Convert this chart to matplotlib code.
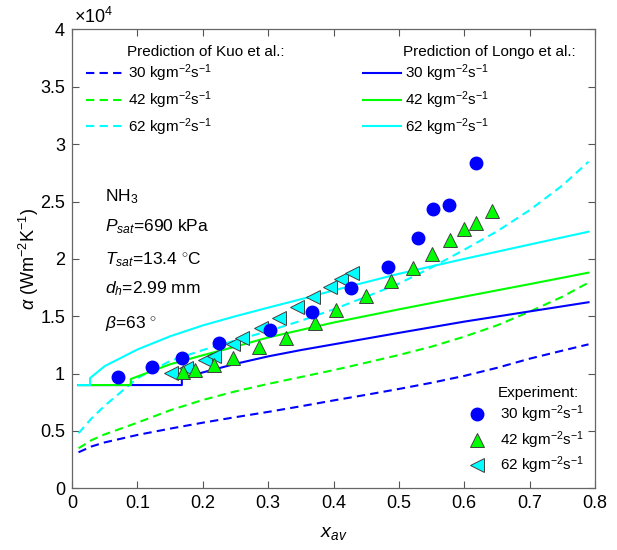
import numpy as np
import matplotlib.pyplot as plt
from matplotlib.ticker import FuncFormatter, MultipleLocator

plt.rcParams['font.family'] = 'Liberation Sans'
plt.rcParams['mathtext.fontset'] = 'custom'
plt.rcParams['mathtext.rm'] = 'Liberation Sans'
plt.rcParams['mathtext.it'] = 'Liberation Sans:italic'
plt.rcParams['mathtext.bf'] = 'Liberation Sans:bold'

# experimental heat transfer coefficients, W/m^2K
x_30 = [0.071, 0.123, 0.169, 0.225, 0.303, 0.367, 0.426, 0.483, 0.529, 0.552, 0.576, 0.618]
a_30 = [9680, 10600, 11400, 12640, 13800, 15340, 17490, 19320, 21850, 24380, 24670, 28360]

x_42 = [0.170, 0.188, 0.217, 0.247, 0.286, 0.327, 0.372, 0.404, 0.449, 0.488, 0.521,
        0.551, 0.578, 0.600, 0.618, 0.642]
a_42 = [10110, 10310, 10750, 11330, 12290, 13130, 14440, 15540, 16790, 18070, 19230,
        20400, 21650, 22600, 23100, 24180]

x_62 = [0.151, 0.174, 0.2035, 0.217, 0.247, 0.260, 0.289, 0.317, 0.344, 0.369, 0.394, 0.412, 0.429]
a_62 = [10030, 10460, 11190, 11530, 12580, 13080, 13950, 14820, 15830, 16700, 17580, 18220, 18740]

# Kuo et al. correlation
xk = [0.01, 0.03, 0.05, 0.1, 0.15, 0.2, 0.25, 0.3, 0.35, 0.4, 0.45, 0.5, 0.55, 0.6, 0.65, 0.7, 0.75, 0.79]
kuo_30 = [3140, 3650, 4000, 4650, 5200, 5720, 6200, 6660, 7150, 7660, 8150, 8660, 9200, 9800,
          10500, 11300, 12000, 12550]
kuo_42 = [3490, 4200, 4700, 5720, 6800, 7700, 8450, 9100, 9700, 10300, 10950, 11620, 12350,
          13220, 14200, 15400, 16700, 17930]
kuo_62 = [4800, 6100, 7200, 9600, 11100, 12050, 12900, 13700, 14600, 15600, 16700, 17850,
          19250, 20800, 22400, 24250, 26400, 28470]

# Longo et al. correlation (flat 9000 below the onset quality)
xl_30 = [0.01, 0.168, 0.168, 0.2, 0.25, 0.3, 0.35, 0.4, 0.5, 0.6, 0.7, 0.79]
longo_30 = [9000, 9000, 9600, 10100, 10850, 11500, 12050, 12550, 13550, 14530, 15420, 16220]
xl_42 = [0.01, 0.09, 0.09, 0.15, 0.2, 0.25, 0.3, 0.4, 0.5, 0.6, 0.7, 0.79]
longo_42 = [9000, 9000, 9530, 10810, 11600, 12350, 13150, 14450, 15600, 16710, 17800, 18800]
xl_62 = [0.01, 0.0275, 0.0275, 0.05, 0.1, 0.15, 0.2, 0.25, 0.3, 0.35, 0.4, 0.5, 0.6, 0.7, 0.79]
longo_62 = [9000, 9000, 9600, 10650, 12100, 13250, 14200, 15000, 15750, 16480, 17250, 18700,
            20000, 21250, 22370]

blue = '#0000ff'
green = '#00ff00'
cyan = '#00ffff'

fig = plt.figure(figsize=(6.17, 5.5), dpi=100)
ax = fig.add_axes([0.1167, 0.1122, 0.8477, 0.8342])

lbl = [r'30 kgm$^{-2}$s$^{-1}$', r'42 kgm$^{-2}$s$^{-1}$', r'62 kgm$^{-2}$s$^{-1}$']

kuo_lines = []
for ys, c, l in zip([kuo_30, kuo_42, kuo_62], [blue, green, cyan], lbl):
    ln, = ax.plot(xk, ys, color=c, lw=1.5, dashes=(4, 2.5), label=l)
    kuo_lines.append(ln)

longo_lines = []
for xs, ys, c, l in zip([xl_30, xl_42, xl_62], [longo_30, longo_42, longo_62],
                        [blue, green, cyan], lbl):
    ln, = ax.plot(xs, ys, color=c, lw=1.5, label=l)
    longo_lines.append(ln)

m62, = ax.plot(x_62, a_62, ls='none', marker='<', ms=10, mfc=cyan, mec='#404040', mew=0.7,
               label=lbl[2], zorder=3)
m42, = ax.plot(x_42, a_42, ls='none', marker='^', ms=10, mfc=green, mec='#404040', mew=0.7,
               label=lbl[1], zorder=3)
m30, = ax.plot(x_30, a_30, ls='none', marker='o', ms=9, mfc=blue, mec=blue,
               label=lbl[0], zorder=4)

ax.set_xlim(0, 0.8)
ax.set_ylim(0, 40000)
ax.xaxis.set_major_locator(MultipleLocator(0.1))
ax.yaxis.set_major_locator(MultipleLocator(5000))
ax.xaxis.set_major_formatter(FuncFormatter(lambda v, _: '%g' % round(v, 2)))
ax.yaxis.set_major_formatter(FuncFormatter(lambda v, _: '%g' % (v / 1e4)))
ax.tick_params(direction='in', top=True, right=True, labelsize=13, length=5,
               color='#555555', pad=5)
for s in ax.spines.values():
    s.set_color('#666666')
    s.set_linewidth(0.9)

ax.text(0.004, 1.005, r'$\times$10$^{4}$', transform=ax.transAxes, fontsize=13,
        ha='left', va='bottom')

ax.set_xlabel(r'$x_{av}$', fontsize=14, labelpad=9)
ax.set_ylabel(r'$\alpha$ (Wm$^{-2}$K$^{-1}$)', fontsize=13)
ax.yaxis.set_label_coords(-0.06, 0.5)

leg_kw = dict(frameon=False, fontsize=11, borderpad=0, borderaxespad=0, loc='upper left')
leg1 = ax.legend(handles=kuo_lines, bbox_to_anchor=(0.027, 0.928), labelspacing=0.34,
                 handlelength=2.5, handletextpad=0.25, **leg_kw)
ax.add_artist(leg1)
leg2 = ax.legend(handles=longo_lines, bbox_to_anchor=(0.556, 0.928), labelspacing=0.34,
                 handlelength=2.5, handletextpad=0.25, **leg_kw)
ax.add_artist(leg2)
leg3 = ax.legend(handles=[m30, m42, m62], bbox_to_anchor=(0.753, 0.184), labelspacing=0.25,
                 handlelength=1.5, handletextpad=0.75, **leg_kw)

ax.text(0.105, 0.951, 'Prediction of Kuo et al.:', transform=ax.transAxes,
        fontsize=11, ha='left', va='center')
ax.text(0.633, 0.951, 'Prediction of Longo et al.:', transform=ax.transAxes,
        fontsize=11, ha='left', va='center')
ax.text(0.814, 0.208, 'Experiment:', transform=ax.transAxes,
        fontsize=11, ha='left', va='center')

notes = [r'NH$_3$', r'$P_{sat}$=690 kPa', r'$T_{sat}$=13.4 $^{\circ}$C',
         r'$d_h$=2.99 mm', r'$\beta$=63 $^{\circ}$']
note_y = [196.7, 226.7, 260, 288.3, 323.3]
for t, py in zip(notes, note_y):
    ax.text(0.063, (488.3 - py) / 458.8, t, transform=ax.transAxes,
            fontsize=12.5, ha='left', va='center')

fig.savefig('out.png', dpi=100)
